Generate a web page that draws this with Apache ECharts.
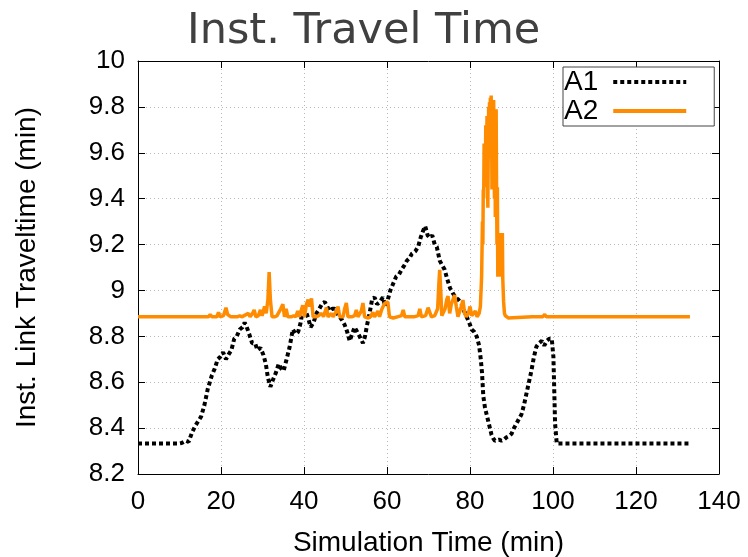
<!DOCTYPE html>
<html>
<head>
<meta charset="utf-8">
<script src="https://cdn.jsdelivr.net/npm/echarts@6/dist/echarts.min.js"></script>
<style>html,body{margin:0;padding:0;background:#fff}#c{width:748px;height:557px}</style>
</head>
<body>
<div id="c"></div>
<script>
const titleText = "Inst. Travel Time";
const xName = "Simulation Time (min)";
const yName = "Inst. Link Traveltime (min)";
const seriesNames = ["A1", "A2"];

const a1Time = [0,10,10.5,11.5,12.2,13,13.8,14.5,15.2,16,16.8,17.3,17.8,18.5,19.2,19.8,20.5,21.2,21.8,22.5,23.2,23.8,24.5,25.2,25.7,26.2,26.8,27.5,28.2,28.8,29.5,30.2,30.8,31.3,31.9,32.5,33.2,33.9,34.5,35.1,35.8,36.5,37.3,38,38.6,39.2,39.8,40.4,41,41.6,42.3,43,43.7,44.3,45,45.6,46.2,46.8,47.4,48,48.6,49.2,49.8,50.4,51,51.6,52.2,52.8,53.4,54.2,54.7,55.2,55.8,56.4,57,57.6,58.3,59,59.6,60.2,60.8,61.5,62.2,62.9,63.5,64.2,64.8,65.4,66,66.8,67.5,68.1,68.7,69.2,69.8,70.3,70.9,71.5,72,72.7,73.3,73.9,74.5,75.2,75.8,76.5,77.2,78,78.6,79.2,79.8,80.4,81,81.6,82.2,82.6,82.9,83.2,83.6,84,84.4,84.8,85.2,85.6,86,86.4,87,87.6,88.2,88.8,89.4,90,90.6,91.2,91.8,92.4,93,93.6,94.2,94.8,95.4,96,96.6,97.3,97.9,98.5,99.1,99.7,100.1,100.5,100.9,133];
const a1Value = [8.333,8.333,8.335,8.345,8.34,8.38,8.41,8.43,8.45,8.50,8.57,8.60,8.63,8.66,8.70,8.71,8.73,8.70,8.72,8.74,8.79,8.80,8.83,8.84,8.86,8.84,8.81,8.77,8.77,8.74,8.75,8.72,8.68,8.62,8.58,8.61,8.64,8.68,8.66,8.65,8.70,8.75,8.83,8.81,8.82,8.86,8.93,8.91,8.88,8.84,8.86,8.90,8.92,8.94,8.95,8.93,8.91,8.92,8.92,8.90,8.885,8.87,8.85,8.82,8.78,8.81,8.84,8.82,8.80,8.77,8.80,8.85,8.90,8.96,8.97,8.94,8.95,8.97,8.93,8.96,9.00,9.03,9.06,9.07,9.09,9.11,9.13,9.14,9.16,9.17,9.19,9.23,9.26,9.28,9.24,9.23,9.24,9.20,9.19,9.13,9.11,9.09,9.05,9.01,8.99,8.97,8.96,8.94,8.91,8.885,8.86,8.83,8.82,8.80,8.76,8.70,8.64,8.54,8.49,8.46,8.43,8.40,8.37,8.355,8.345,8.34,8.35,8.345,8.35,8.36,8.365,8.375,8.40,8.42,8.44,8.46,8.50,8.55,8.60,8.65,8.71,8.755,8.77,8.78,8.76,8.78,8.79,8.79,8.71,8.42,8.333,8.333];

const a2Time = [0,17,17.4,17.8,19,19.4,19.8,20.6,21.2,21.6,22,22.4,24,24.5,25,26.6,27,27.6,28,28.4,29,29.5,29.9,30.5,30.9,31.3,31.6,31.9,32.3,33,33.5,34.4,34.9,35.3,35.7,36.1,37,37.5,38,38.5,38.9,39.3,39.7,40.1,40.6,41,41.4,41.8,42.2,43,43.5,44.3,44.7,45.4,45.8,46.6,47,47.8,48.2,48.6,49.4,49.8,50.2,50.6,51.5,52.2,52.6,53,53.8,54.2,54.6,55.5,56,56.6,57,57.8,58.2,58.8,59.5,60.2,60.6,61.5,62.5,63.5,63.9,64.3,65.5,66.5,67.5,67.9,68.3,69.3,69.9,70.3,70.7,71.5,72.2,72.5,72.7,72.95,73.2,73.6,74,74.4,74.7,75.1,75.5,75.9,76.3,76.7,77.1,77.5,77.9,78.3,78.7,79.1,79.6,80,80.4,80.8,81.3,81.7,82.2,82.5,82.8,83.0,83.1,83.2,83.3,83.4,83.5,83.6,83.7,83.8,83.9,84.0,84.1,84.2,84.3,84.4,84.5,84.6,84.7,84.8,84.9,85.0,85.1,85.2,85.3,85.4,85.5,85.6,85.7,85.8,85.9,86.0,86.1,86.2,86.3,86.4,86.5,86.6,86.7,86.8,86.9,87.0,87.1,87.2,87.3,87.4,87.5,87.6,87.7,87.8,87.9,88.1,88.3,88.5,88.8,89.2,95,97.5,98,98.4,133];
const a2Value = [8.885,8.885,8.895,8.885,8.885,8.905,8.885,8.89,8.925,8.895,8.90,8.885,8.885,8.89,8.885,8.90,8.885,8.90,8.915,8.885,8.89,8.915,8.89,8.93,8.90,8.96,9.08,8.96,8.885,8.885,8.89,8.92,8.94,8.885,8.92,8.885,8.885,8.89,8.885,8.91,8.885,8.89,8.935,8.885,8.94,8.96,8.93,8.965,8.885,8.885,8.89,8.90,8.885,8.925,8.885,8.90,8.885,8.91,8.93,8.885,8.885,8.92,8.945,8.885,8.885,8.89,8.915,8.885,8.91,8.945,8.885,8.88,8.885,8.905,8.885,8.91,8.885,8.92,8.945,8.95,8.885,8.88,8.885,8.89,8.915,8.885,8.885,8.885,8.89,8.92,8.885,8.89,8.925,8.93,8.885,8.89,8.92,9.03,9.09,9.00,8.89,8.885,8.92,8.96,8.975,8.90,8.94,8.96,8.98,8.93,8.885,8.89,8.93,8.958,8.90,8.885,8.90,8.93,8.89,8.885,8.91,8.885,8.90,8.93,9.06,9.30,9.20,9.44,9.40,9.64,9.45,9.62,9.48,9.72,9.50,9.60,9.76,9.55,9.36,9.62,9.80,9.58,9.82,9.66,9.84,9.58,9.85,9.70,9.44,9.66,9.82,9.50,9.83,9.60,9.40,9.70,9.32,9.55,9.79,9.44,9.20,9.45,9.06,9.22,9.25,9.10,9.24,9.06,9.25,9.12,9.25,9.07,9.20,9.25,9.05,8.95,8.90,8.89,8.885,8.88,8.885,8.885,8.895,8.885,8.885];

const xMin = 0, xMax = 140, xStep = 20;
const yMin = 8.2, yMax = 10, yStep = 0.2;

const toPairs = (t, v) => t.map((x, i) => [x, v[i]]);
const fmtY = v => String(+(+v).toFixed(1));
const labelFont = "'Liberation Sans', Arial, sans-serif";

const chart = echarts.init(document.getElementById('c'), null, {renderer: 'canvas'});
const splitLine = {show: true, lineStyle: {color: '#b8b8b8', width: 1, type: [1, 3]}};
const axisLine = {show: true, onZero: false, lineStyle: {color: '#000', width: 1}};
const axisTick = {show: true, inside: true, length: 7, lineStyle: {color: '#000', width: 1}};

chart.setOption({
  animation: false,
  backgroundColor: '#fff',
  title: {
    text: titleText, left: 182, top: 5,
    textStyle: {fontFamily: "'DejaVu Sans', sans-serif", fontSize: 43, fontWeight: 'normal', color: '#404040'}
  },
  legend: {
    orient: 'vertical', left: 563, top: 67, align: 'right',
    backgroundColor: '#fff', borderColor: '#444', borderWidth: 1,
    padding: [1, 26, 1, 1], itemGap: 1, itemWidth: 73, itemHeight: 26,
    itemStyle: {opacity: 0},
    lineStyle: {width: 4},
    textStyle: {fontFamily: labelFont, fontSize: 28, lineHeight: 26, color: '#000', padding: [0, 10, 0, 0]},
    data: seriesNames
  },
  grid: {left: 138, right: 29, top: 61, bottom: 83, containLabel: false, outerBoundsMode: 'none'},
  xAxis: [{
    type: 'value', min: xMin, max: xMax, interval: xStep, position: 'bottom',
    name: xName, nameLocation: 'middle', nameGap: 55,
    nameTextStyle: {fontFamily: labelFont, fontSize: 28, color: '#000'},
    axisLabel: {fontFamily: labelFont, fontSize: 26, color: '#000', margin: 15},
    axisLine, axisTick, splitLine
  }, {
    type: 'value', min: xMin, max: xMax, interval: xStep, position: 'top',
    axisLabel: {show: false}, axisLine, axisTick, splitLine: {show: false}
  }],
  yAxis: [{
    type: 'value', min: yMin, max: yMax, interval: yStep, position: 'left',
    name: yName, nameLocation: 'middle', nameGap: 97,
    nameTextStyle: {fontFamily: labelFont, fontSize: 28, color: '#000'},
    axisLabel: {fontFamily: labelFont, fontSize: 26, color: '#000', margin: 13, formatter: fmtY},
    axisLine, axisTick, splitLine
  }, {
    type: 'value', min: yMin, max: yMax, interval: yStep, position: 'right',
    axisLabel: {show: false}, axisLine, axisTick, splitLine: {show: false}
  }],
  series: [{
    name: seriesNames[0], type: 'line', xAxisIndex: 0, yAxisIndex: 0,
    data: toPairs(a1Time, a1Value), showSymbol: false, symbol: 'none',
    lineStyle: {color: '#000', width: 4, type: [4, 3], cap: 'butt'},
    itemStyle: {color: '#000'}, z: 2
  }, {
    name: seriesNames[1], type: 'line', xAxisIndex: 0, yAxisIndex: 0,
    data: toPairs(a2Time, a2Value), showSymbol: false, symbol: 'none',
    lineStyle: {color: '#ff8c00', width: 3.5, type: 'solid'},
    itemStyle: {color: '#ff8c00'}, z: 3
  }]
});
</script>
</body>
</html>
